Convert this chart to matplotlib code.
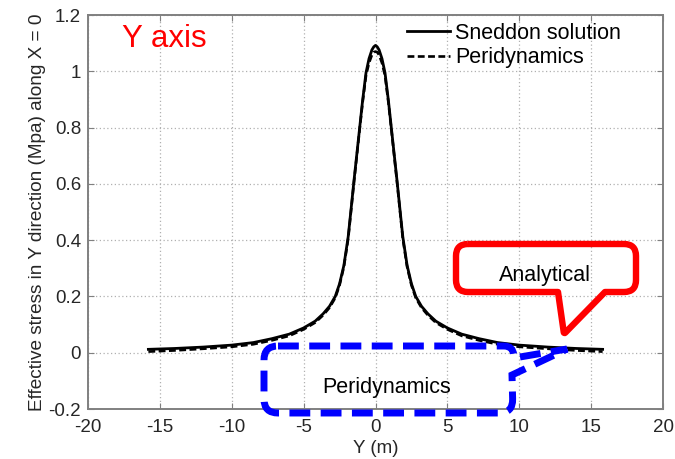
import numpy as np
import matplotlib
matplotlib.use("Agg")
import matplotlib.pyplot as plt
from matplotlib.path import Path
from matplotlib.patches import PathPatch

plt.rcParams['font.family'] = ['Liberation Sans', 'DejaVu Sans']
plt.rcParams['axes.unicode_minus'] = False

# values
y_pos = [-15.8, -14, -12, -10, -8.5, -7.2, -6, -5, -4.2, -3.65, -3.2, -2.8, -2.5,
         -2.2, -1.9, -1.7, -1.5, -1.3, -1.1, -0.9, -0.66, -0.45, -0.25, -0.12, 0,
         0.12, 0.25, 0.45, 0.66, 0.9, 1.1, 1.3, 1.5, 1.7, 1.9, 2.2, 2.5, 2.8, 3.2,
         3.65, 4.2, 5, 6, 7.2, 8.5, 10, 12, 14, 15.8]
sneddon = [0.012, 0.015, 0.020, 0.027, 0.036, 0.050, 0.066, 0.088, 0.112, 0.138,
           0.165, 0.200, 0.245, 0.310, 0.412, 0.510, 0.610, 0.705, 0.800, 0.895,
           0.995, 1.045, 1.076, 1.087, 1.092,
           1.087, 1.076, 1.045, 0.995, 0.895, 0.800, 0.705, 0.610, 0.510, 0.412,
           0.310, 0.245, 0.200, 0.165, 0.138, 0.112, 0.088, 0.066, 0.050, 0.036,
           0.027, 0.020, 0.015, 0.012]
peri = [0.004, 0.008, 0.014, 0.021, 0.030, 0.044, 0.060, 0.083, 0.107, 0.133,
        0.160, 0.195, 0.240, 0.305, 0.405, 0.505, 0.605, 0.700, 0.795, 0.888,
        0.985, 1.030, 1.058, 1.068, 1.070,
        1.068, 1.058, 1.030, 0.985, 0.888, 0.795, 0.700, 0.605, 0.505, 0.405,
        0.305, 0.240, 0.195, 0.160, 0.133, 0.107, 0.083, 0.060, 0.044, 0.030,
        0.021, 0.014, 0.008, 0.004]
x_ticks = [-20, -15, -10, -5, 0, 5, 10, 15, 20]
y_ticks = [-0.2, 0, 0.2, 0.4, 0.6, 0.8, 1, 1.2]

W, H = 675, 459
fig = plt.figure(figsize=(W / 100, H / 100), dpi=100)
ax = fig.add_axes([88 / W, (H - 409) / H, (663 - 88) / W, (409 - 15) / H])

ax.plot(y_pos, sneddon, color='black', lw=2.0, label='Sneddon solution')
ax.plot(y_pos, peri, color='black', lw=1.9, ls=(0, (2.6, 1.3)), label='Peridynamics')

ax.set_xlim(-20, 20)
ax.set_ylim(-0.2, 1.2)
ax.set_xticks(x_ticks)
ax.set_yticks(y_ticks)
ax.set_xticklabels(['%g' % t for t in x_ticks])
ax.set_yticklabels(['%g' % t for t in y_ticks])
ax.grid(True, ls=(0, (1, 2)), color='#b0b0b0', lw=0.9)
ax.tick_params(direction='in', length=4, top=True, right=True, labelsize=13.5,
               colors='#808080', labelcolor='#262626')
ax.tick_params(axis='x', pad=7)
ax.tick_params(axis='y', pad=5)
for s in ax.spines.values():
    s.set_color('#808080')
    s.set_linewidth(1.4)

ax.set_xlabel('Y (m)', fontsize=13.5, color='#262626', labelpad=3)
ax.set_ylabel('Effective stress in Y direction (Mpa) along X = 0', fontsize=13.7,
              color='#262626', labelpad=2)

ax.legend(loc='upper left', bbox_to_anchor=((407 - 88) / 575, (409 - 23) / 394),
          frameon=False, fontsize=15.5, handlelength=2.0, handletextpad=0.25,
          borderaxespad=0, borderpad=0, labelspacing=0.15)

# overlay in pixel coords for the callouts
ov = fig.add_axes([0, 0, 1, 1])
ov.set_xlim(0, W)
ov.set_ylim(H, 0)
ov.axis('off')
ov.patch.set_alpha(0)


def rounded(pts):
    verts, codes = [], []
    n = len(pts)
    ins, outs = [], []
    for i in range(n):
        x, y, r = pts[i]
        px, py, _ = pts[i - 1]
        nx, ny, _ = pts[(i + 1) % n]
        v = np.array([x, y], float)
        a = np.array([px, py], float) - v
        b = np.array([nx, ny], float) - v
        ins.append(v + a / np.hypot(*a) * r)
        outs.append(v + b / np.hypot(*b) * r)
    verts.append(outs[0]); codes.append(Path.MOVETO)
    for j in list(range(1, n)) + [0]:
        verts.append(ins[j]); codes.append(Path.LINETO)
        if pts[j][2] > 0:
            verts += [pts[j][:2], outs[j]]
            codes += [Path.CURVE3, Path.CURVE3]
    return Path(verts, codes)


red = [(456, 244, 12), (636, 244, 12), (636, 292, 12), (605, 292, 0),
       (564, 334, 2), (558, 292, 0), (456, 292, 12)]
ov.add_patch(PathPatch(rounded(red), fill=False, ec='#ff0000', lw=4.6,
                       joinstyle='round'))
ov.text(545, 276, 'Analytical', fontsize=15.5, ha='center', va='center', color='black')

blue = [(264, 346, 14), (513, 346, 9), (514, 358, 0), (567, 349, 0),
        (512, 375, 0), (513, 413, 14), (264, 413, 14)]
ov.add_patch(PathPatch(rounded(blue), fill=False, ec='#0000ff', lw=5.0,
                       ls=(0, (3, 1.5))))
ov.text(387, 388, 'Peridynamics', fontsize=15.5, ha='center', va='center', color='black')

ov.text(122, 39, 'Y axis', fontsize=22.5, color='#ff0000', ha='left', va='center')

fig.savefig('out.png', dpi=100)
